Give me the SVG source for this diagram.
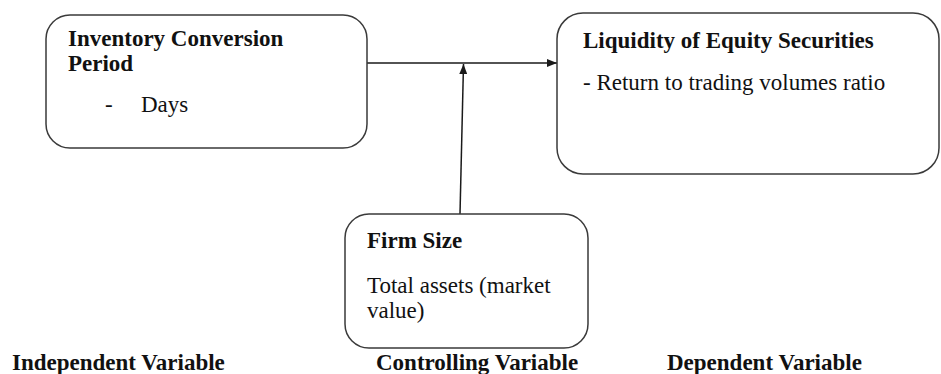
<svg xmlns="http://www.w3.org/2000/svg" width="941" height="374" viewBox="0 0 941 374">
<defs>
<marker id="ah" markerWidth="10" markerHeight="8" refX="10" refY="4" orient="auto" markerUnits="userSpaceOnUse">
<path d="M0,0 L10,4 L0,8 Z" fill="#1a1a1a"/>
</marker>
</defs>
<rect width="941" height="374" fill="#fff"/>
<g id="connectors" stroke="#1a1a1a" stroke-width="1.5" fill="none">
<line x1="367" y1="63" x2="557" y2="63" marker-end="url(#ah)"/>
<line x1="460" y1="214" x2="463.5" y2="64" marker-end="url(#ah)"/>
</g>
<g id="independent">
<rect x="46" y="15" width="321" height="133" rx="24" fill="#fff" stroke="#3a3a3a" stroke-width="1.5"/>
<text x="68" y="46" font-family="Liberation Serif" font-size="23" font-weight="bold" fill="#111">Inventory Conversion</text>
<text x="68" y="71" font-family="Liberation Serif" font-size="23" font-weight="bold" fill="#111">Period</text>
<text x="105" y="112" font-family="Liberation Serif" font-size="23" fill="#111">-</text>
<text x="141" y="112" font-family="Liberation Serif" font-size="23" fill="#111">Days</text>
</g>
<g id="dependent">
<rect x="557" y="13" width="382" height="161" rx="26" fill="#fff" stroke="#3a3a3a" stroke-width="1.5"/>
<text x="583" y="48" font-family="Liberation Serif" font-size="23" font-weight="bold" fill="#111">Liquidity of Equity Securities</text>
<text x="583" y="90" font-family="Liberation Serif" font-size="23" fill="#111">- Return to trading volumes ratio</text>
</g>
<g id="controlling">
<rect x="345" y="214" width="243" height="134" rx="24" fill="#fff" stroke="#3a3a3a" stroke-width="1.5"/>
<text x="367" y="248" font-family="Liberation Serif" font-size="23" font-weight="bold" fill="#111">Firm Size</text>
<text x="367" y="293" font-family="Liberation Serif" font-size="23" fill="#111">Total assets (market</text>
<text x="367" y="318" font-family="Liberation Serif" font-size="23" fill="#111">value)</text>
</g>
<g id="labels">
<text x="12" y="370" font-family="Liberation Serif" font-size="23" font-weight="bold" fill="#111">Independent Variable</text>
<text x="376" y="370" font-family="Liberation Serif" font-size="23" font-weight="bold" fill="#111">Controlling Variable</text>
<text x="667" y="370" font-family="Liberation Serif" font-size="23" font-weight="bold" fill="#111">Dependent Variable</text>
</g>
</svg>
